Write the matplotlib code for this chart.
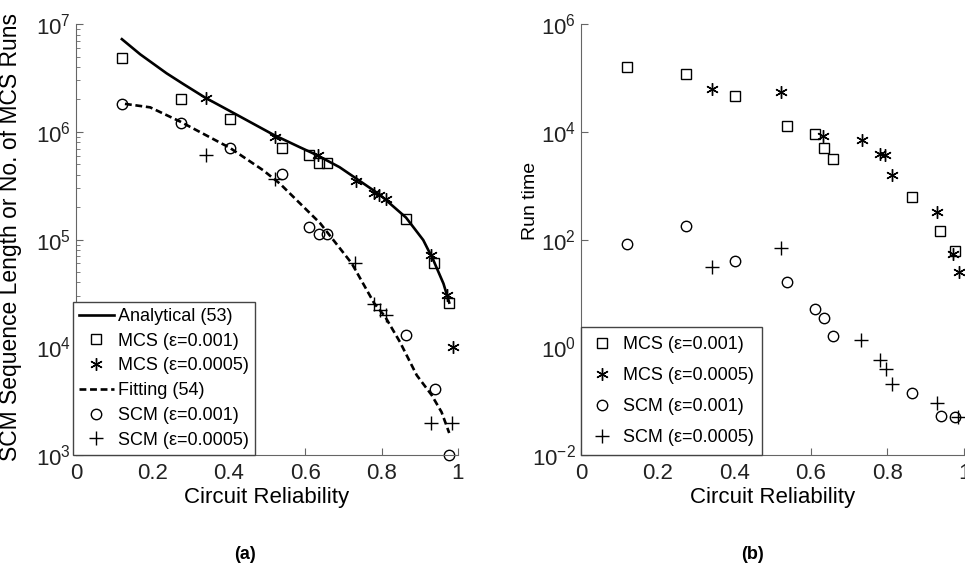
import numpy as np
import matplotlib
matplotlib.use("Agg")
import matplotlib.pyplot as plt

plt.rcParams['font.family'] = ['Liberation Sans', 'DejaVu Sans']
plt.rcParams['mathtext.fontset'] = 'custom'
plt.rcParams['mathtext.rm'] = 'Liberation Sans'
plt.rcParams['axes.unicode_minus'] = False

# ---------------- (a) SCM sequence length / MCS runs ----------------
ana_x = [0.120, 0.168, 0.237, 0.281, 0.338, 0.412, 0.517, 0.586, 0.630, 0.690,
         0.733, 0.796, 0.864, 0.909, 0.935, 0.962, 0.977]
ana_y = [7.26e6, 5.25e6, 3.5e6, 2.78e6, 2.08e6, 1.5e6, 9.4e5, 7.2e5, 6.1e5, 4.7e5,
         3.7e5, 2.6e5, 1.6e5, 9.9e4, 6.5e4, 3.9e4, 2.6e4]

fit_x = [0.128, 0.194, 0.272, 0.403, 0.490, 0.534, 0.639, 0.722, 0.781, 0.809,
         0.848, 0.892, 0.931, 0.957, 0.977]
fit_y = [1.82e6, 1.69e6, 1.25e6, 7.1e5, 4.4e5, 3.3e5, 1.42e5, 6.0e4, 2.55e4, 1.93e4,
         1.12e4, 5.5e3, 3.6e3, 2.5e3, 1.6e3]

sq_x = [0.120, 0.275, 0.403, 0.538, 0.611, 0.635, 0.658, 0.864, 0.937, 0.977]
mcs1_runs = [4.9e6, 2.0e6, 1.31e6, 7.1e5, 6.1e5, 5.1e5, 5.1e5, 1.55e5, 6.0e4, 2.55e4]

st_x = [0.341, 0.521, 0.633, 0.733, 0.781, 0.794, 0.811, 0.929, 0.970, 0.986]
mcs2_runs = [2.06e6, 9.0e5, 6.1e5, 3.5e5, 2.7e5, 2.6e5, 2.4e5, 7.2e4, 3.07e4, 1.0e4]

ci_x = [0.120, 0.275, 0.403, 0.538, 0.611, 0.635, 0.658, 0.864, 0.939, 0.977]
scm1_len = [1.82e6, 1.22e6, 7.1e5, 4.1e5, 1.32e5, 1.12e5, 1.12e5, 1.3e4, 4.1e3, 1.0e3]

pl_x = [0.341, 0.521, 0.731, 0.781, 0.796, 0.811, 0.929, 0.985]
scm2_len = [6.1e5, 3.66e5, 6.0e4, 2.5e4, 2.2e4, 2.0e4, 2.0e3, 2.0e3]

# ---------------- (b) run time ----------------
mcs1_time = [1.63e5, 1.19e5, 4.7e4, 1.29e4, 9.1e3, 5.1e3, 3.1e3, 6.3e2, 1.47e2, 62]
mcs2_time = [6.2e4, 5.4e4, 8.4e3, 7.1e3, 3.9e3, 3.7e3, 1.59e3, 3.3e2, 54, 25.5]
scm1_time = [83, 180, 40, 16.6, 5.1, 3.5, 1.65, 0.14, 0.052, 0.05]
scm2_time = [31.5, 69, 1.37, 0.58, 0.39, 0.21, 0.094, 0.05]

fig = plt.figure(figsize=(9.65, 5.69), dpi=100)
ax1 = fig.add_axes([0.0788, 0.2004, 0.3958, 0.7571])
ax2 = fig.add_axes([0.6021, 0.2004, 0.3969, 0.7571])

mk = dict(ls='none', mfc='none', mec='black', color='black', mew=1.0, clip_on=False)
sq = dict(marker='s', ms=7, **mk)
st = dict(marker=(6, 2, 0), ms=9, **mk)
ci = dict(marker='o', ms=7.5, **mk)
pl = dict(marker='+', ms=10, **mk)

ax1.plot(ana_x, ana_y, color='black', lw=1.9, label='Analytical (53)')
ax1.plot(sq_x, mcs1_runs, label='MCS (\u03b5=0.001)', **sq)
ax1.plot(st_x, mcs2_runs, label='MCS (\u03b5=0.0005)', **st)
ax1.plot(fit_x, fit_y, color='black', lw=1.9, dashes=(2.6, 1.4), label='Fitting (54)')
ax1.plot(ci_x, scm1_len, label='SCM (\u03b5=0.001)', **ci)
ax1.plot(pl_x, scm2_len, label='SCM (\u03b5=0.0005)', **pl)

ax2.plot(sq_x, mcs1_time, label='MCS (\u03b5=0.001)', **sq)
ax2.plot(st_x, mcs2_time, label='MCS (\u03b5=0.0005)', **st)
ax2.plot(ci_x, scm1_time, label='SCM (\u03b5=0.001)', **ci)
ax2.plot(pl_x, scm2_time, label='SCM (\u03b5=0.0005)', **pl)

for ax in (ax1, ax2):
    ax.set_yscale('log')
    ax.set_xlim(0, 1)
    ax.set_xticks([0, 0.2, 0.4, 0.6, 0.8, 1])
    ax.set_xticklabels(['0', '0.2', '0.4', '0.6', '0.8', '1'])
    ax.set_xlabel('Circuit Reliability', fontsize=16, labelpad=2)
    ax.spines['top'].set_visible(False)
    ax.spines['right'].set_visible(False)
    for s in ('left', 'bottom'):
        ax.spines[s].set_color('#666666')
    ax.tick_params(which='both', direction='in', colors='#666666', labelcolor='#222222',
                   labelsize=16)
    ax.tick_params(which='major', length=5)
    ax.tick_params(which='minor', length=3)
    ax.tick_params(axis='x', pad=6)

ax1.set_ylim(1e3, 1e7)
ax2.set_ylim(1e-2, 1e6)
ax2.set_yticks([1e-2, 1e0, 1e2, 1e4, 1e6])
ax2.yaxis.set_minor_locator(matplotlib.ticker.NullLocator())

ax1.set_ylabel('SCM Sequence Length or No. of MCS Runs', fontsize=16.5)
ax2.set_ylabel('Run time', fontsize=14)
ax1.yaxis.set_label_coords(-0.141, 0.507)
ax2.yaxis.set_label_coords(-0.11, 0.59)

leg1 = ax1.legend(loc='lower left', bbox_to_anchor=(-0.008, 0), borderaxespad=0,
                  fontsize=13, handlelength=1.9, handletextpad=0.25, labelspacing=0.43,
                  borderpad=0.35, fancybox=False, framealpha=1)
leg1.get_frame().set_edgecolor('#444444')
leg1.get_frame().set_linewidth(1.0)

leg2 = ax2.legend(loc='lower left', bbox_to_anchor=(0, 0), borderaxespad=0,
                  fontsize=13, handlelength=1.3, handletextpad=0.5, labelspacing=0.77,
                  borderpad=0.5, fancybox=False, framealpha=1)
leg2.get_frame().set_edgecolor('#444444')
leg2.get_frame().set_linewidth(1.0)

fig.text(0.254, 0.026, '(a)', fontsize=13, fontweight='bold', ha='center', va='center')
fig.text(0.780, 0.026, '(b)', fontsize=13, fontweight='bold', ha='center', va='center')

fig.savefig('out.png', dpi=100)
